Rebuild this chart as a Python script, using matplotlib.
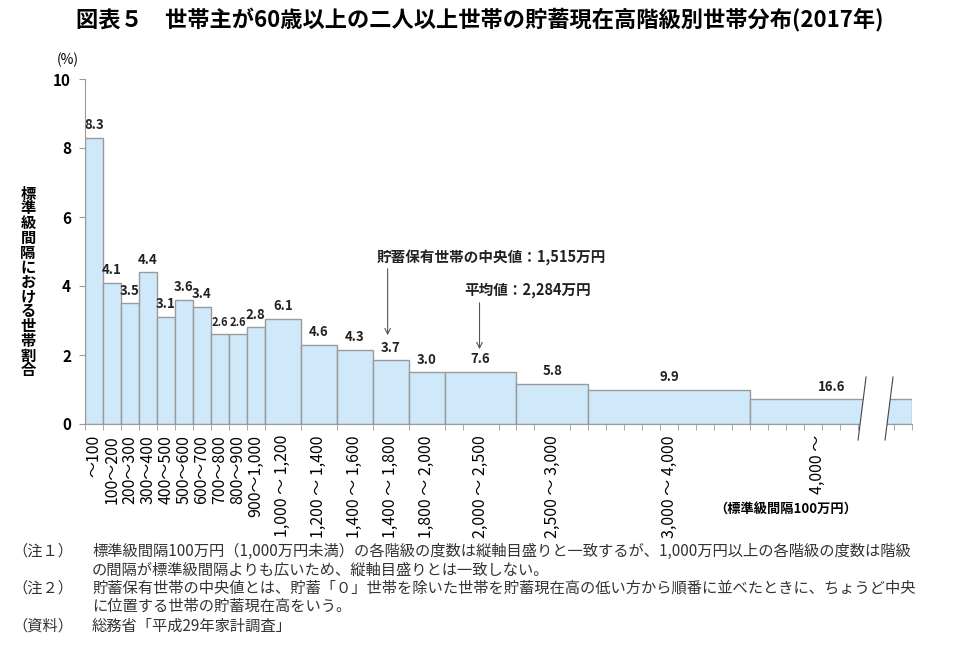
import matplotlib
matplotlib.use("Agg")
import matplotlib.pyplot as plt
from matplotlib.patches import Polygon

plt.rcParams['font.family'] = ['Noto Sans CJK JP', 'DejaVu Sans']

# ---- data ----
categories = ["～100", "100～200", "200～300", "300～400", "400～500", "500～600",
              "600～700", "700～800", "800～900", "900～1,000",
              "1,000 ～ 1,200", "1,200 ～ 1,400", "1,400 ～ 1,600", "1,400 ～ 1,800",
              "1,800 ～ 2,000", "2,000 ～ 2,500", "2,500 ～ 3,000", "3,000 ～ 4,000",
              "4,000 ～"]
values = [8.3, 4.1, 3.5, 4.4, 3.1, 3.6, 3.4, 2.6, 2.6, 2.8,
          6.1, 4.6, 4.3, 3.7, 3.0, 7.6, 5.8, 9.9, 16.6]
# class width in units of the standard interval (100万円); last one estimated
class_width = [1] * 10 + [2] * 5 + [5, 5, 10, 23]
# width each bar occupies on the drawn (broken) axis
drawn_width = [1] * 10 + [2] * 5 + [4, 4, 9, 9]
yticks = [0, 2, 4, 6, 8, 10]

heights = [v / w for v, w in zip(values, class_width)]
lefts = [sum(drawn_width[:i]) for i in range(len(drawn_width))]
centers = [l + w / 2 for l, w in zip(lefts, drawn_width)]
label_pos = centers[:-1] + [centers[-1] - 0.75]

fig = plt.figure(figsize=(9.6, 6.46), dpi=100)
ax = fig.add_axes([85 / 960, 1 - 424 / 646, 827 / 960, 345 / 646])

ax.bar(lefts, heights, width=drawn_width, align='edge', color='#cfe9fb',
       edgecolor='#9a9a9a', linewidth=1.0, zorder=2)

for i, (c, h, v) in enumerate(zip(centers, heights, values)):
    fs = 8 if v == 2.6 else 9.5
    ax.annotate(f"{v:.1f}", (c, h), xytext=(0, 4), textcoords='offset points',
                ha='center', va='bottom', fontsize=fs, fontweight='bold',
                color='#222222')

total = sum(drawn_width)
ax.set_xlim(0, total)
ax.set_ylim(0, 10)
ax.set_yticks(yticks)
ax.set_yticklabels([str(t) for t in yticks], fontsize=11, fontweight='bold')
ax.set_xticks(label_pos)
ax.set_xticklabels(categories, rotation=90, fontsize=11.5, va='top', ha='center')
ax.tick_params(axis='x', length=0, pad=8)
ax.set_xticks(range(0, total + 1), minor=True)
ax.tick_params(axis='x', which='minor', length=4, color='#9a9a9a', direction='out')
ax.tick_params(axis='y', length=4, color='#9a9a9a', pad=6)

for s in ['top', 'right']:
    ax.spines[s].set_visible(False)
for s in ['left', 'bottom']:
    ax.spines[s].set_color('#9a9a9a')

# axis break
x_to_u = lambda px: (px - 85) / 18
y_to_u = lambda py: (424 - py) / 34.5
brk = Polygon([(x_to_u(867), y_to_u(377)), (x_to_u(894), y_to_u(377)),
               (x_to_u(886), y_to_u(440)), (x_to_u(859), y_to_u(440))],
              closed=True, facecolor='white', edgecolor='none', zorder=5, clip_on=False)
ax.add_patch(brk)
ax.plot([x_to_u(867), x_to_u(859)], [y_to_u(377), y_to_u(440)], color='#444444',
        lw=0.8, zorder=6, clip_on=False)
ax.plot([x_to_u(894), x_to_u(886)], [y_to_u(377), y_to_u(440)], color='#444444',
        lw=0.8, zorder=6, clip_on=False)

# annotations
ax.text(x_to_u(492), y_to_u(258), "貯蓄保有世帯の中央値：1,515万円", ha='center', va='center',
        fontsize=10.5, fontweight='bold', color='#222222')
ax.annotate("", xy=(x_to_u(388), y_to_u(338)), xytext=(x_to_u(388), y_to_u(266)),
            arrowprops=dict(arrowstyle='->', color='#555555', lw=0.8))
ax.text(x_to_u(528), y_to_u(290), "平均値：2,284万円", ha='center', va='center',
        fontsize=10.5, fontweight='bold', color='#222222')
ax.annotate("", xy=(x_to_u(480), y_to_u(352)), xytext=(x_to_u(480), y_to_u(300)),
            arrowprops=dict(arrowstyle='->', color='#555555', lw=0.8))

# y label & unit
fig.text(28 / 960, 1 - 282 / 646, "\n".join("標準級間隔における世帯割合"), ha='center',
         va='center', fontsize=11, fontweight='bold', linespacing=0.9)
fig.text(68 / 960, 1 - 60 / 646, "(%)", ha='center', va='center', fontsize=10)
fig.text(786 / 960, 1 - 510 / 646, "（標準級間隔100万円）", ha='center', va='center',
         fontsize=9.5, fontweight='bold')

# title
fig.text(0.5, 1 - 20 / 646, "図表５　世帯主が60歳以上の二人以上世帯の貯蓄現在高階級別世帯分布(2017年)",
         ha='center', va='center', fontsize=16, fontweight='bold')

# notes
notes = [
    (551, "（注１）", "標準級間隔100万円（1,000万円未満）の各階級の度数は縦軸目盛りと一致するが、1,000万円以上の各階級の度数は階級"),
    (570, "", "の間隔が標準級間隔よりも広いため、縦軸目盛りとは一致しない。"),
    (588, "（注２）", "貯蓄保有世帯の中央値とは、貯蓄「０」世帯を除いた世帯を貯蓄現在高の低い方から順番に並べたときに、ちょうど中央"),
    (606, "", "に位置する世帯の貯蓄現在高をいう。"),
    (626, "（資料）", "総務省「平成29年家計調査」"),
]
for py, head, body in notes:
    if head:
        fig.text(12 / 960, 1 - py / 646, head, ha='left', va='center', fontsize=11, color='#333333')
    fig.text(92 / 960, 1 - py / 646, body, ha='left', va='center', fontsize=11, color='#333333')

fig.savefig("out.png", dpi=100)
